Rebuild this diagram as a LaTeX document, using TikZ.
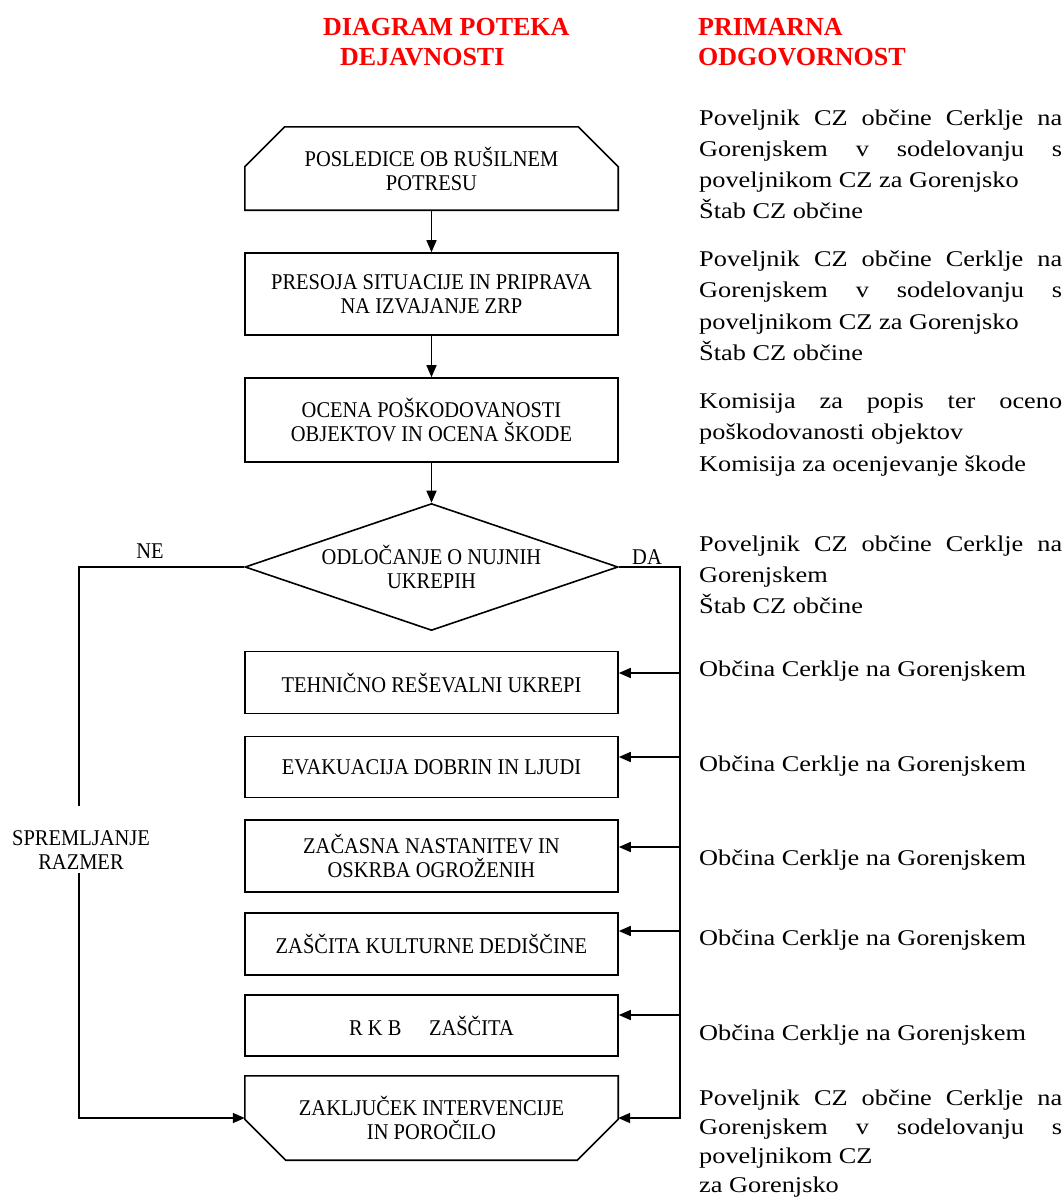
\documentclass[tikz,border=0pt]{standalone}
\usepackage{fontspec}
\setmainfont{Liberation Serif}
\newfontfamily\respfont[FakeStretch=1.17]{Liberation Serif}
\newfontfamily\chartfont[FakeStretch=0.91]{Liberation Serif}
\usetikzlibrary{shapes.geometric,arrows.meta,calc}
\definecolor{hdred}{RGB}{255,0,0}
\newcommand\flowfont{\chartfont\fontsize{22.5}{24}\selectfont}
\newcommand\jline[1]{\makebox[363pt][s]{#1}}
\newcommand\respsize{\respfont\fontsize{22.5}{31.3}\selectfont}
\tikzset{
  box/.style={draw, line width=1.6pt, minimum width=373pt, inner sep=0pt, align=center, font=\flowfont},
  plainbox/.style={inner sep=0pt, minimum width=373pt, align=center, font=\flowfont},
  decision/.style={diamond, draw, line width=1.6pt, aspect=2.94, minimum width=373pt, minimum height=127pt, inner sep=0pt, align=center, font=\flowfont},
  conn/.style={line width=1.6pt},
  arr/.style={conn, -{Triangle[length=12pt,width=10pt]}},
  lbl/.style={inner sep=0pt, font=\flowfont, align=center},
  head/.style={inner sep=0pt, anchor=base west, text=hdred, font=\bfseries\fontsize{26}{31}\selectfont},
  resp/.style={inner sep=0pt, anchor=base west},
}
\begin{document}
\begin{tikzpicture}[x=1pt,y=-1pt]
\useasboundingbox[fill=white] (0,0) rectangle (1064,1200);

% headers
\node[head] (h1) at (323,35) {DIAGRAM POTEKA};
\node[head] (h2) at (340,65) {DEJAVNOSTI};
\node[head] (h3) at (698,35) {PRIMARNA};
\node[head] (h4) at (698,65) {ODGOVORNOST};

% flow nodes
\node[plainbox, minimum height=83pt] (p1) at (431.5,168.5) {POSLEDICE OB RUŠILNEM\\POTRESU};
\draw[conn] (p1.south west) -- ($(p1.north west)+(0,40)$) -- ($(p1.north west)+(40,0)$)
  -- ($(p1.north east)+(-40,0)$) -- ($(p1.north east)+(0,40)$) -- (p1.south east) -- cycle;
\node[box, minimum height=82pt] (p2) at (431.5,294) {PRESOJA SITUACIJE IN PRIPRAVA\\NA IZVAJANJE ZRP};
\node[box, minimum height=84pt] (p3) at (431.5,420) {OCENA POŠKODOVANOSTI\\OBJEKTOV IN OCENA ŠKODE};
\node[decision] (dec) at (431.5,567) {ODLOČANJE O NUJNIH\\UKREPIH};
\node[box, minimum height=62pt] (t1) at (431.5,682.5) {TEHNIČNO REŠEVALNI UKREPI};
\node[box, minimum height=61pt] (t2) at (431.5,767) {EVAKUACIJA DOBRIN IN LJUDI};
\node[box, minimum height=72pt] (t3) at (431.5,856) {ZAČASNA NASTANITEV IN\\OSKRBA OGROŽENIH};
\node[box, minimum height=62pt] (t4) at (431.5,944) {ZAŠČITA KULTURNE DEDIŠČINE};
\node[box, minimum height=61pt] (t5) at (431.5,1025.5) {R K B \quad ZAŠČITA};
\node[plainbox, minimum height=84pt] (fin) at (431.5,1118) {ZAKLJUČEK INTERVENCIJE\\IN POROČILO};
\draw[conn] (fin.north west) -- (fin.north east) -- ($(fin.south east)+(0,-41)$) -- ($(fin.south east)+(-41,0)$)
  -- ($(fin.south west)+(41,0)$) -- ($(fin.south west)+(0,-41)$) -- cycle;

% vertical flow
\draw[arr] (p1.south) -- (p2.north);
\draw[arr] (p2.south) -- (p3.north);
\draw[arr] (p3.south) -- (dec.north);

% DA branch
\coordinate (bt) at (680,567);
\draw[arr] (dec.east) -- (bt) |- (fin.east);
\coordinate (tap1) at (680,673);
\coordinate (tap2) at (680,757);
\coordinate (tap3) at (680,847);
\coordinate (tap4) at (680,931);
\coordinate (tap5) at (680,1015);
\draw[arr] (tap1) -- (tap1 -| t1.east);
\draw[arr] (tap2) -- (tap2 -| t2.east);
\draw[arr] (tap3) -- (tap3 -| t3.east);
\draw[arr] (tap4) -- (tap4 -| t4.east);
\draw[arr] (tap5) -- (tap5 -| t5.east);

% NE branch
\coordinate (nA) at (79,806);
\coordinate (nB) at (79,873);
\draw[conn] (dec.west) -| (nA);
\draw[arr] (nB) |- (fin.west);

\node[lbl] (ne) at (150,551) {NE};
\node[lbl] (da) at (647,557) {DA};
\node[lbl] (spr) at (81,850) {SPREMLJANJE\\RAZMER};

% responsibilities
\node[resp] (r1) at (699,125) {\parbox[t]{363pt}{\respsize
  \jline{Poveljnik CZ občine Cerklje na}\\
  \jline{Gorenjskem v sodelovanju s}\\
  poveljnikom CZ za Gorenjsko\\
  Štab CZ občine}};
\node[resp] (r2) at (699,266.5) {\parbox[t]{363pt}{\respsize
  \jline{Poveljnik CZ občine Cerklje na}\\
  \jline{Gorenjskem v sodelovanju s}\\
  poveljnikom CZ za Gorenjsko\\
  Štab CZ občine}};
\node[resp] (r3) at (699,408.5) {\parbox[t]{363pt}{\respsize
  \jline{Komisija za popis ter oceno}\\
  poškodovanosti objektov\\
  Komisija za ocenjevanje škode}};
\node[resp] (r4) at (699,551) {\parbox[t]{363pt}{\respsize
  \jline{Poveljnik CZ občine Cerklje na}\\
  Gorenjskem\\
  Štab CZ občine}};
\node[resp] (r5) at (699,676) {\respsize Občina Cerklje na Gorenjskem};
\node[resp] (r6) at (699,771) {\respsize Občina Cerklje na Gorenjskem};
\node[resp] (r7) at (699,865) {\respsize Občina Cerklje na Gorenjskem};
\node[resp] (r8) at (699,945) {\respsize Občina Cerklje na Gorenjskem};
\node[resp] (r9) at (699,1040) {\respsize Občina Cerklje na Gorenjskem};
\node[resp] (r10) at (699,1105) {\parbox[t]{363pt}{\respfont\fontsize{22.5}{29}\selectfont
  \jline{Poveljnik CZ občine Cerklje na}\\
  \jline{Gorenjskem v sodelovanju s}\\
  poveljnikom CZ\\
  za Gorenjsko}};
\end{tikzpicture}
\end{document}
